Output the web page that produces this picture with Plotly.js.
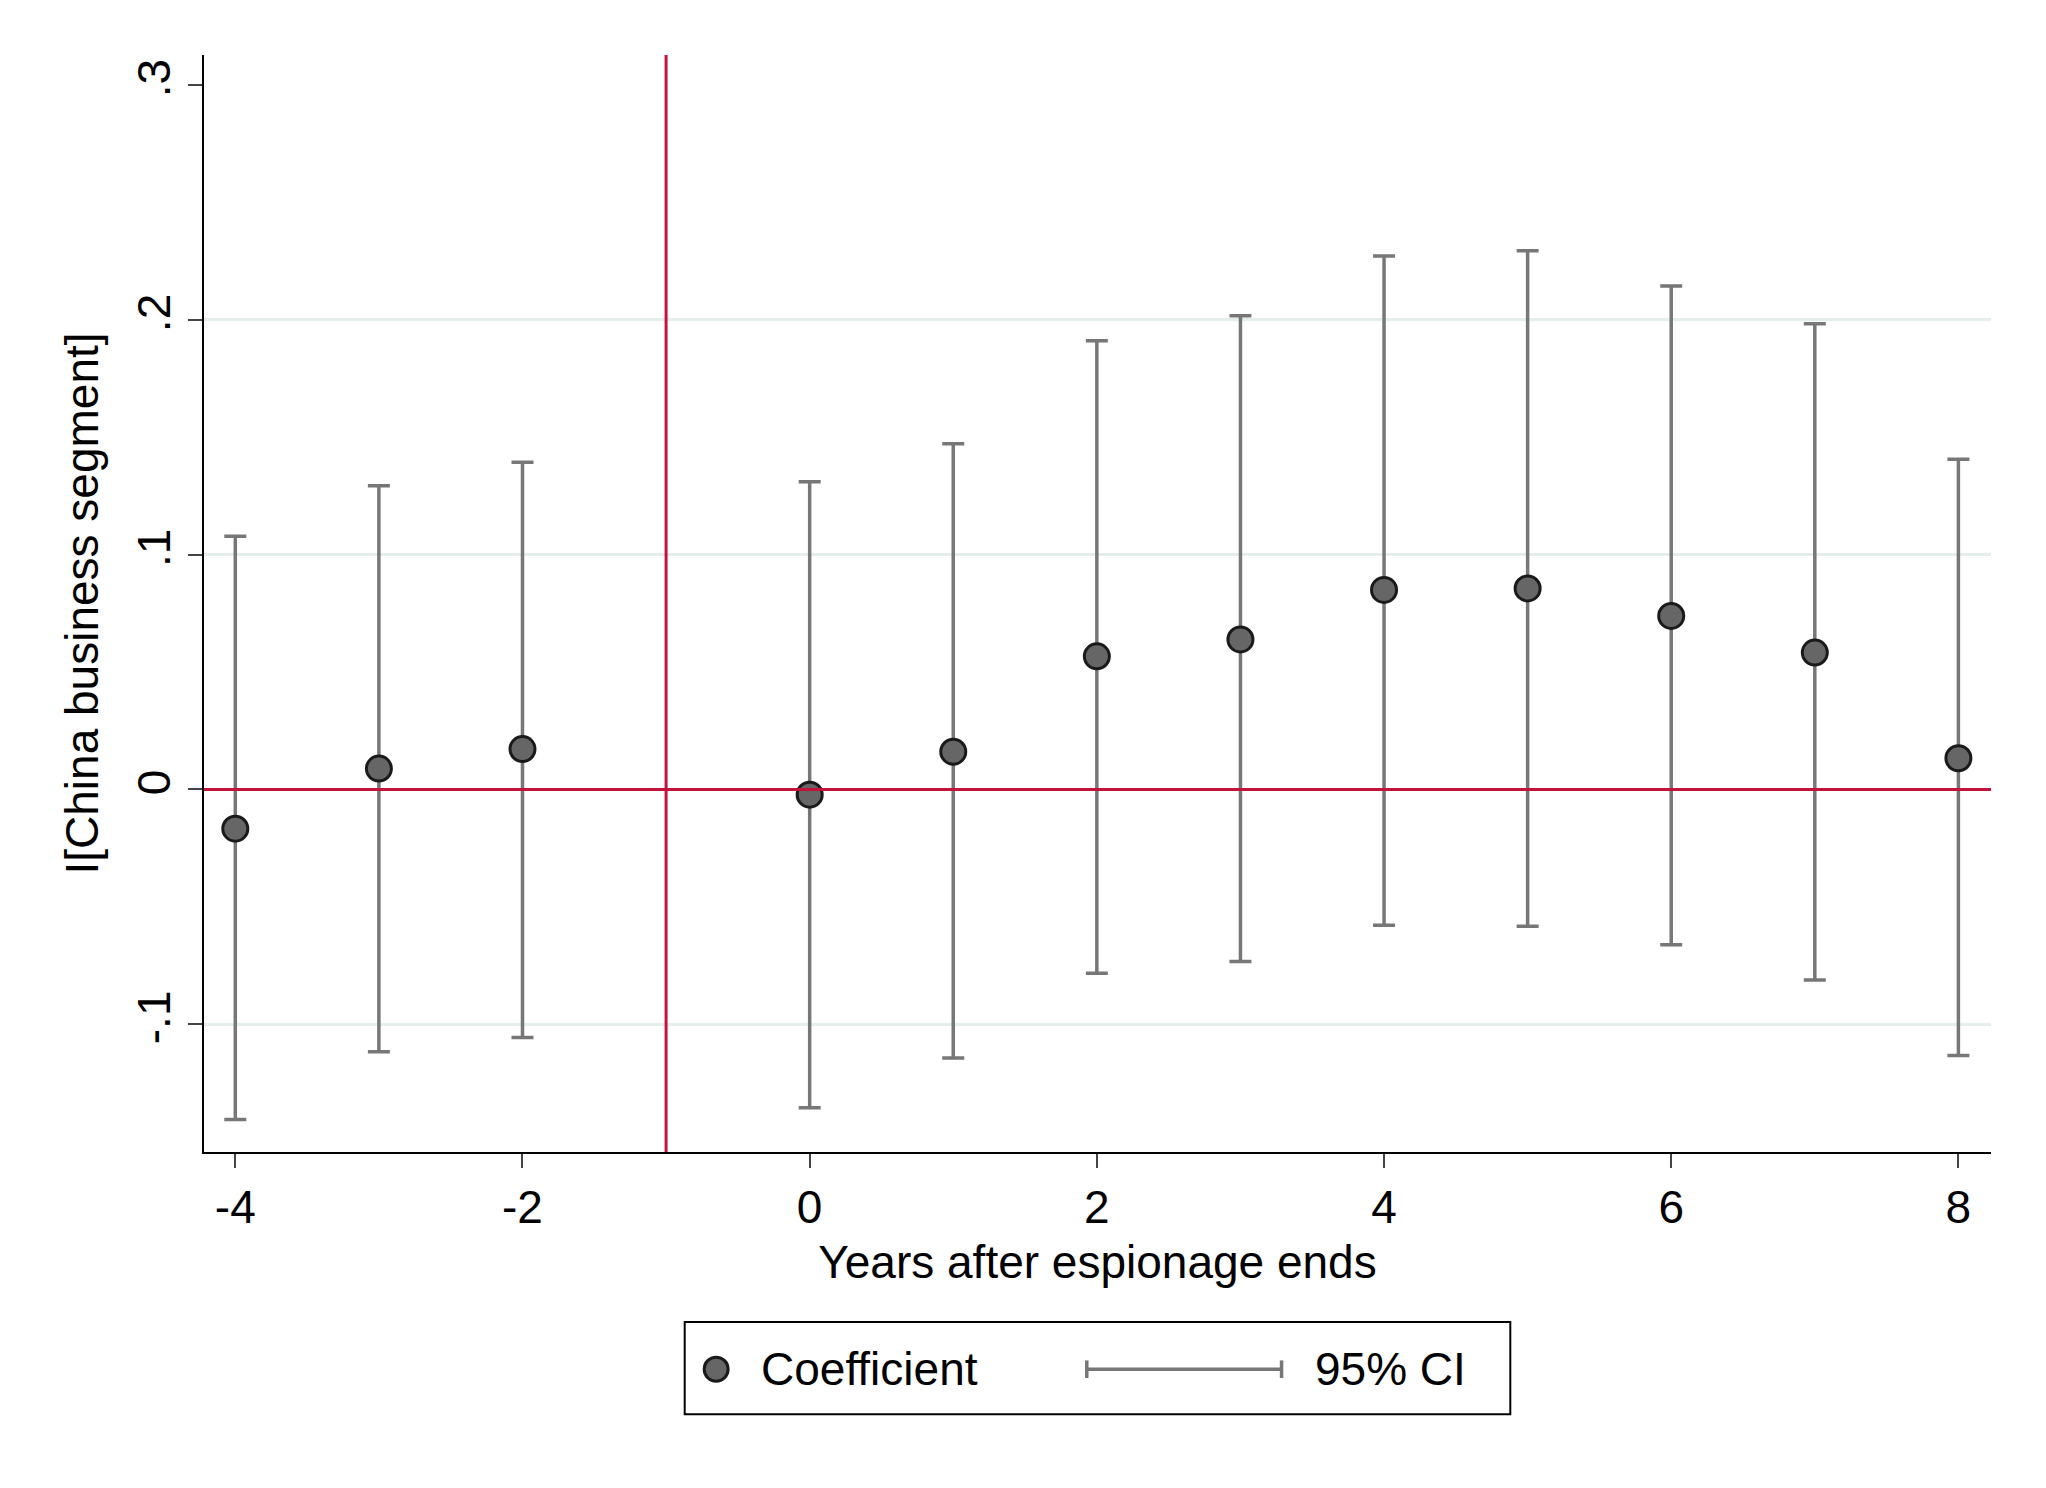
<!DOCTYPE html>
<html><head><meta charset="utf-8">
<script src="https://cdn.plot.ly/plotly-3.0.1.min.js"></script>
<style>body{margin:0;background:#fff}#chart{width:2046px;height:1488px}</style>
</head><body><div id="chart"></div>
<script>
const years = [-4, -3, -2, 0, 1, 2, 3, 4, 5, 6, 7, 8];
const coef  = [-0.0167, 0.0089, 0.0172, -0.0022, 0.0161, 0.0567, 0.0639, 0.0850, 0.0856, 0.0739, 0.0583, 0.0133];
const ciHigh = [0.1078, 0.1294, 0.1394, 0.1311, 0.1472, 0.1911, 0.2017, 0.2272, 0.2294, 0.2144, 0.1983, 0.1406];
const ciLow  = [-0.1406, -0.1117, -0.1056, -0.1356, -0.1144, -0.0783, -0.0733, -0.0578, -0.0583, -0.0661, -0.0811, -0.1133];
const yTicks = [-0.1, 0, 0.1, 0.2, 0.3];
const yTickText = ['-.1', '0', '.1', '.2', '.3'];
const xTicks = [-4, -2, 0, 2, 4, 6, 8];
const xTickText = ['-4', '-2', '0', '2', '4', '6', '8'];

const font = 'Liberation Sans, Arial, Helvetica, sans-serif';
const ciColor = '#777777';

const data = [{
  x: years, y: coef, type: 'scatter', mode: 'markers', showlegend: false,
  marker: {size: 25, color: '#666666', line: {color: '#1a1a1a', width: 3}},
  error_y: {type: 'data', symmetric: false,
    array: coef.map((c, i) => ciHigh[i] - c),
    arrayminus: coef.map((c, i) => c - ciLow[i]),
    color: ciColor, thickness: 3.5, width: 11}
}];

const layout = {
  width: 2046, height: 1488,
  paper_bgcolor: '#fff', plot_bgcolor: '#fff',
  font: {family: font, color: '#000', size: 46},
  margin: {l: 204, r: 55, t: 55, b: 336},
  xaxis: {range: [-4.218, 8.227], tickvals: xTicks, ticktext: xTickText, ticks: 'outside', ticklen: 14, tickwidth: 2,
    showline: true, linecolor: '#000', linewidth: 2, showgrid: false, zeroline: false,
    tickfont: {size: 46}, title: {text: 'Years after espionage ends', font: {size: 46}, standoff: 14}},
  yaxis: {range: [-0.1544, 0.3128], tickvals: yTicks, ticktext: yTickText, tickangle: -90,
    ticks: 'outside', ticklen: 14, tickwidth: 2, showline: true, linecolor: '#000', linewidth: 2,
    showgrid: true, gridcolor: '#e4eeeb', gridwidth: 3, zeroline: false,
    tickfont: {size: 46}, title: {text: 'I[China business segment]', font: {size: 46}, standoff: 14}},
  shapes: [
    {type: 'line', xref: 'paper', yref: 'y', x0: 0, x1: 1, y0: 0.3, y1: 0.3, line: {color: '#fff', width: 4}},
    {type: 'line', xref: 'x', yref: 'paper', x0: -1, x1: -1, y0: 0, y1: 1, line: {color: '#c4123c', width: 3}},
    {type: 'line', xref: 'paper', yref: 'y', x0: 0, x1: 1, y0: 0, y1: 0, line: {color: '#c4123c', width: 3}},
    // legend
    {type: 'rect', xref: 'paper', yref: 'paper', x0: 0.269, x1: 0.731, y0: -0.239, y1: -0.155, line: {color: '#000', width: 2}},
    {type: 'circle', xref: 'paper', yref: 'paper', x0: 0.2866 - 0.0067, x1: 0.2866 + 0.0067, y0: -0.198 - 0.011, y1: -0.198 + 0.011,
      fillcolor: '#666666', line: {color: '#1a1a1a', width: 3}},
    {type: 'line', xref: 'paper', yref: 'paper', x0: 0.494, x1: 0.603, y0: -0.198, y1: -0.198, line: {color: ciColor, width: 3.5}},
    {type: 'line', xref: 'paper', yref: 'paper', x0: 0.494, x1: 0.494, y0: -0.206, y1: -0.190, line: {color: ciColor, width: 3.5}},
    {type: 'line', xref: 'paper', yref: 'paper', x0: 0.603, x1: 0.603, y0: -0.206, y1: -0.190, line: {color: ciColor, width: 3.5}}
  ],
  annotations: [
    {xref: 'paper', yref: 'paper', x: 0.3106, y: -0.198, xanchor: 'left', yanchor: 'middle', showarrow: false, text: 'Coefficient', font: {size: 46}},
    {xref: 'paper', yref: 'paper', x: 0.6206, y: -0.198, xanchor: 'left', yanchor: 'middle', showarrow: false, text: '95% CI', font: {size: 46}}
  ]
};

Plotly.newPlot('chart', data, layout, {displayModeBar: false});
</script>
</body></html>
